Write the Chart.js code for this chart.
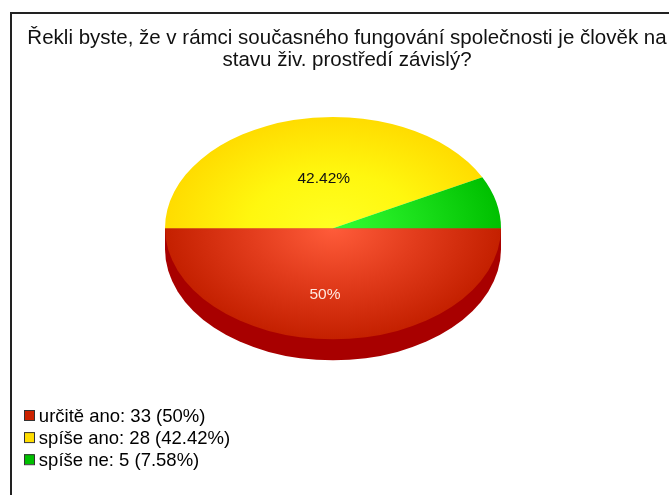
<!DOCTYPE html>
<html><head><meta charset="utf-8">
<style>
html,body{margin:0;padding:0;background:#fff;overflow:hidden}
#wrap{position:relative;width:669px;height:495px;overflow:hidden;filter:blur(0.4px)}
#frame{position:absolute;left:10px;top:12px;width:700px;height:540px;border:2px solid #222;box-sizing:border-box}
canvas{position:absolute;left:0;top:0}
</style>
<script src="https://cdn.jsdelivr.net/npm/chart.js@4"></script>
</head><body>
<div id="wrap"><div id="frame"></div><canvas id="c" width="669" height="495"></canvas></div>
<script>
const titleLines = ['Řekli byste, že v rámci současného fungování společnosti je člověk na', 'stavu živ. prostředí závislý?'];
const categories = ['určitě ano', 'spíše ano', 'spíše ne'];
const counts = [33, 28, 5];
const percents = ['50%', '42.42%', '7.58%'];
const sliceLabels = ['50%', '42.42%', ''];
const gradientInner = ['#ff5c3a', '#ffff22', '#33ff33'];
const gradientMid = ['#e23c1c', '#fff70f', '#1be01b'];
const gradientOuter = ['#c42000', '#ffdc00', '#00c000'];
const legendFill = ['#cc2200', '#ffdd00', '#00c000'];
const sideColor = '#a80000';
const squash = 0.662, depth = 21, pieRadius = 168;
const legendRow = 22.1;
const fontFamily = '"Liberation Sans", Arial, sans-serif';

function sliceFill(ctx) {
  const chart = ctx.chart, a = chart.chartArea;
  if (!a) return gradientOuter[ctx.dataIndex];
  const cx = (a.left + a.right) / 2, cy = (a.top + a.bottom) / 2;
  const g = chart.ctx.createRadialGradient(cx, cy, 0, cx, cy, pieRadius);
  g.addColorStop(0, gradientInner[ctx.dataIndex]);
  g.addColorStop(0.5, gradientMid[ctx.dataIndex]);
  g.addColorStop(1, gradientOuter[ctx.dataIndex]);
  return g;
}

const ellipsePie = {
  id: 'ellipsePie',
  afterLayout(chart) {
    const l = chart.legend;
    const w = l.width, h = l.height;
    l.left = 25; l.right = 25 + w; l.top = 404; l.bottom = 404 + h;
    chart.titleBlock.left += 14; chart.titleBlock.right += 14;
  },
  beforeDatasetsDraw(chart) {
    const arc = chart.getDatasetMeta(0).data[0], ctx = chart.ctx;
    ctx.save();
    ctx.translate(arc.x, arc.y); ctx.scale(1, squash); ctx.translate(-arc.x, -arc.y);
    ctx.beginPath();
    ctx.arc(arc.x, arc.y + depth / squash, arc.outerRadius, 0, Math.PI);
    ctx.lineTo(arc.x - arc.outerRadius, arc.y);
    ctx.lineTo(arc.x + arc.outerRadius, arc.y);
    ctx.closePath();
    ctx.fillStyle = sideColor;
    ctx.fill();
  },
  afterDatasetsDraw(chart) {
    const ctx = chart.ctx;
    ctx.restore();
    const meta = chart.getDatasetMeta(0);
    ctx.save();
    ctx.font = '15.5px ' + fontFamily;
    ctx.textAlign = 'center'; ctx.textBaseline = 'middle';
    const radial = [0.60, 0.46, 0];
    const shiftX = [-8, 9, 0];
    meta.data.forEach((arc, i) => {
      if (!sliceLabels[i]) return;
      const mid = (arc.startAngle + arc.endAngle) / 2;
      const r = arc.outerRadius * radial[i];
      ctx.fillStyle = i === 0 ? '#ffe8e0' : '#111';
      ctx.fillText(sliceLabels[i], arc.x + Math.cos(mid) * r + shiftX[i], arc.y + Math.sin(mid) * r * squash);
    });
    ctx.restore();
  },
  afterDraw(chart) {
    const ctx = chart.ctx;
    ctx.save();
    legendFill.forEach((color, i) => {
      const top = 410 + i * legendRow;
      ctx.fillStyle = color;
      ctx.strokeStyle = '#333';
      ctx.lineWidth = 1;
      ctx.fillRect(24, top, 10, 10);
      ctx.strokeRect(24.5, top + 0.5, 10, 10);
    });
    ctx.restore();
  }
};

new Chart(document.getElementById('c'), {
  type: 'pie',
  data: {
    labels: categories,
    datasets: [{ data: counts, backgroundColor: sliceFill, borderWidth: 0, radius: pieRadius, rotation: 90 }]
  },
  plugins: [ellipsePie],
  options: {
    responsive: false,
    animation: false,
    layout: { padding: { top: 0, bottom: 110, left: 0, right: 3 } },
    plugins: {
      tooltip: { enabled: false },
      title: {
        display: true, text: titleLines, color: '#111',
        font: { family: fontFamily, size: 20.5, weight: 'normal', lineHeight: 1.08 },
        padding: { top: 27, bottom: 0 }
      },
      legend: {
        position: 'chartArea', align: 'start',
        labels: {
          usePointStyle: true, pointStyleWidth: 1, boxHeight: 11, padding: 3.6, color: '#222',
          font: { family: fontFamily, size: 18.5, lineHeight: 1.2 },
          generateLabels: () => categories.map((c, i) => ({
            text: `${c}: ${counts[i]} (${percents[i]})`,
            pointStyle: 'rect', fillStyle: 'rgba(0,0,0,0)', strokeStyle: 'rgba(0,0,0,0)', lineWidth: 0, hidden: false, index: i
          }))
        }
      }
    }
  }
});
</script>
</body></html>
